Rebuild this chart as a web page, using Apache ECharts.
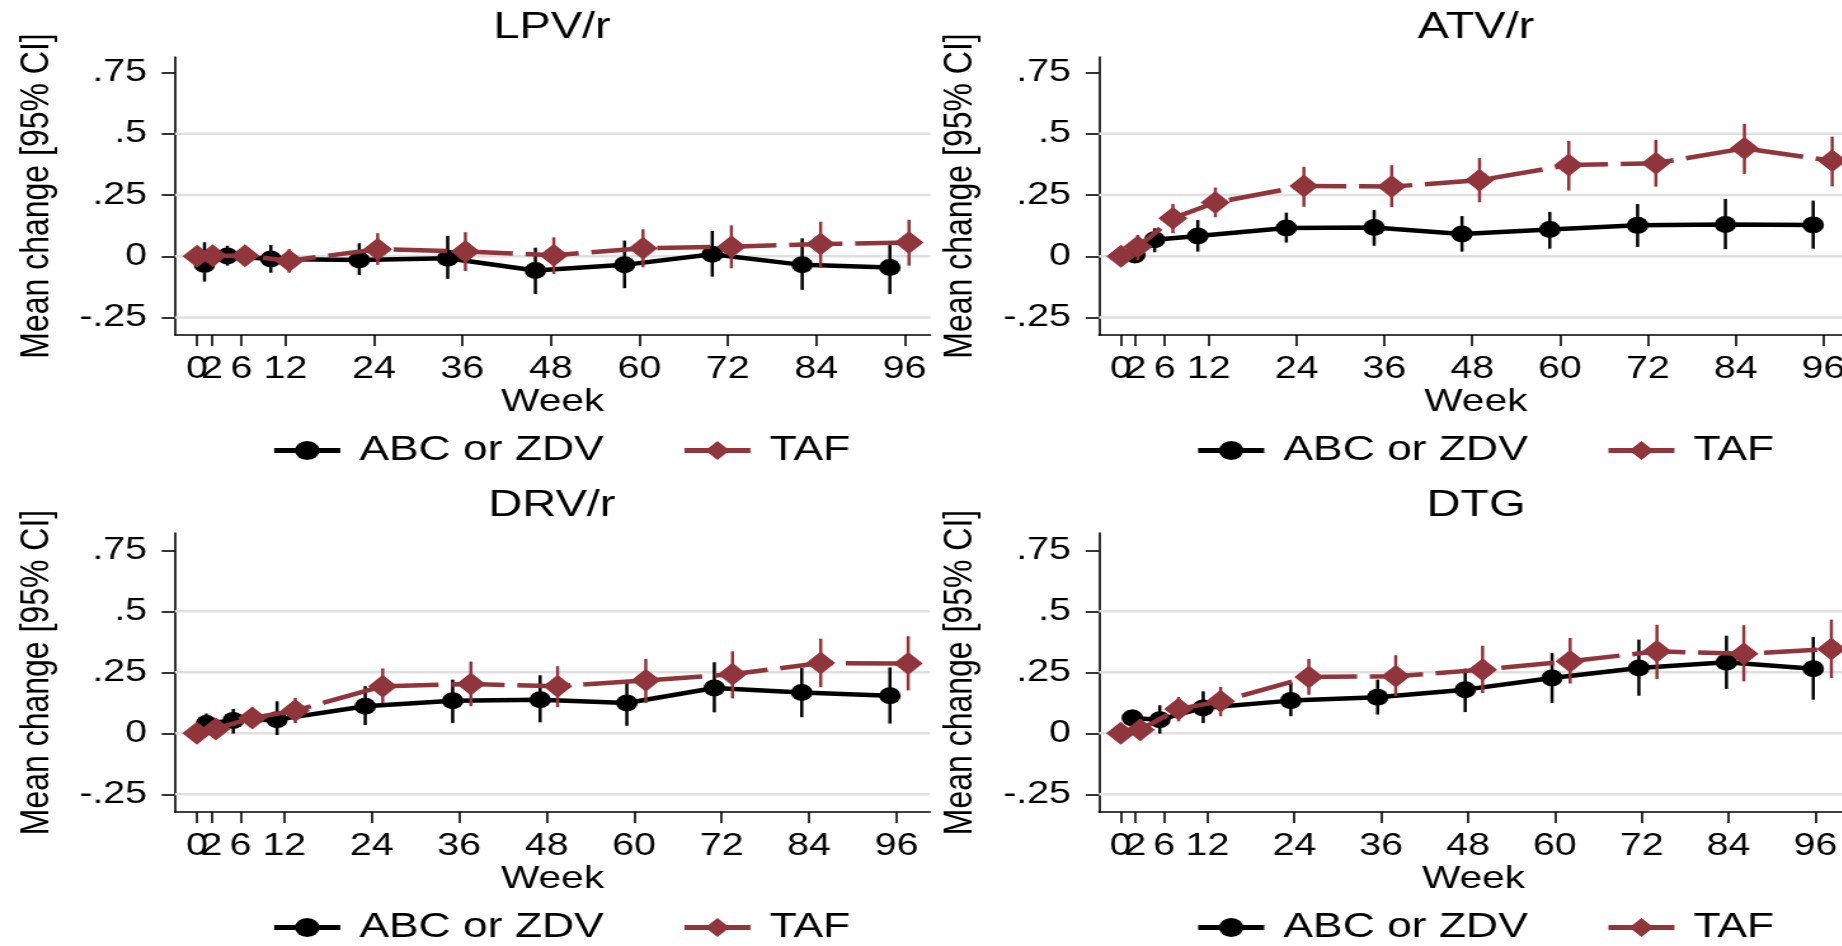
<!DOCTYPE html>
<html><head><meta charset="utf-8">
<script src="https://cdn.jsdelivr.net/npm/echarts@6/dist/echarts.min.js"></script>
<style>
html,body{margin:0;padding:0;overflow:hidden;background:#fff;width:1842px;height:946px;}
#chart{width:1460px;height:946px;transform:scaleX(1.27);transform-origin:0 0;}
</style></head><body><div id="chart"></div><script>
// ---------- data ----------
const weekTicks = [0, 2, 6, 12, 24, 36, 48, 60, 72, 84, 96];
const weekLabelsMain = [2, 6, 12, 24, 36, 48, 60, 72, 84, 96];
const weekLabelsFirst = [0];
const yTickValues = [-0.25, 0, 0.25, 0.5, 0.75];
const yTickLabels = ['-.25', '0', '.25', '.5', '.75'];
const gridValues = [-0.25, 0, 0.25, 0.5];
const panelTitles = ['LPV/r', 'ATV/r', 'DRV/r', 'DTG'];
const seriesNames = ['ABC or ZDV', 'TAF'];

const lpvAbcWeek = [1.0, 4.1, 10.0, 22.0, 34.0, 45.9, 58.0, 69.9, 82.1, 94.0];
const lpvAbcMean = [-0.033, 0.001, -0.011, -0.015, -0.008, -0.058, -0.035, 0.008, -0.035, -0.046];
const lpvAbcLo = [-0.103, -0.038, -0.067, -0.076, -0.092, -0.154, -0.130, -0.083, -0.137, -0.154];
const lpvAbcHi = [0.057, 0.043, 0.046, 0.053, 0.083, 0.035, 0.064, 0.103, 0.073, 0.049];
const lpvTafWeek = [0, 2.1, 6.5, 12.5, 24.5, 36.4, 48.4, 60.5, 72.5, 84.6, 96.6];
const lpvTafMean = [0, 0.002, 0.002, -0.018, 0.029, 0.019, 0.004, 0.033, 0.039, 0.050, 0.056];
const lpvTafLo = [0, -0.025, -0.022, -0.067, -0.035, -0.060, -0.072, -0.045, -0.049, -0.045, -0.038];
const lpvTafHi = [0, 0.028, 0.026, 0.029, 0.094, 0.098, 0.077, 0.110, 0.126, 0.141, 0.149];

const atvAbcWeek = [1.9, 4.6, 10.5, 22.6, 34.6, 46.6, 58.6, 70.6, 82.6, 94.6];
const atvAbcMean = [0.005, 0.067, 0.083, 0.115, 0.117, 0.091, 0.109, 0.126, 0.130, 0.128];
const atvAbcLo = [-0.025, 0.016, 0.019, 0.056, 0.043, 0.019, 0.031, 0.038, 0.029, 0.031];
const atvAbcHi = [0.035, 0.114, 0.148, 0.178, 0.189, 0.164, 0.181, 0.213, 0.234, 0.227];
const atvTafWeek = [0, 2.3, 7.1, 12.9, 25.0, 37.0, 49.0, 61.2, 73.1, 85.2, 97.2];
const atvTafMean = [0, 0.039, 0.155, 0.219, 0.287, 0.284, 0.310, 0.372, 0.379, 0.440, 0.389];
const atvTafLo = [0, -0.015, 0.094, 0.159, 0.202, 0.200, 0.220, 0.268, 0.284, 0.336, 0.285];
const atvTafHi = [0, 0.087, 0.213, 0.280, 0.365, 0.371, 0.400, 0.470, 0.474, 0.540, 0.488];

const drvAbcWeek = [1.3, 5.0, 11.0, 23.1, 35.1, 47.1, 59.0, 71.0, 83.0, 95.1];
const drvAbcMean = [0.040, 0.053, 0.056, 0.111, 0.133, 0.138, 0.124, 0.186, 0.167, 0.154];
const drvAbcLo = [0.015, -0.001, -0.007, 0.034, 0.042, 0.045, 0.031, 0.086, 0.066, 0.040];
const drvAbcHi = [0.081, 0.100, 0.131, 0.193, 0.220, 0.238, 0.206, 0.291, 0.268, 0.270];
const drvTafWeek = [0, 2.6, 7.6, 13.5, 25.5, 37.6, 49.5, 61.6, 73.5, 85.6, 97.6];
const drvTafMean = [0, 0.018, 0.063, 0.093, 0.193, 0.202, 0.193, 0.217, 0.242, 0.288, 0.286];
const drvTafLo = [0, -0.012, 0.029, 0.042, 0.124, 0.111, 0.107, 0.124, 0.143, 0.189, 0.176];
const drvTafHi = [0, 0.045, 0.104, 0.145, 0.266, 0.294, 0.275, 0.305, 0.336, 0.388, 0.398];

const dtgAbcWeek = [1.6, 5.4, 11.4, 23.5, 35.5, 47.6, 59.6, 71.6, 83.7, 95.7];
const dtgAbcMean = [0.063, 0.056, 0.104, 0.134, 0.148, 0.179, 0.227, 0.268, 0.291, 0.265];
const dtgAbcLo = [0.029, -0.001, 0.042, 0.070, 0.077, 0.087, 0.124, 0.154, 0.182, 0.138];
const dtgAbcHi = [0.097, 0.115, 0.172, 0.206, 0.220, 0.265, 0.329, 0.384, 0.400, 0.395];
const dtgTafWeek = [0, 2.7, 8.0, 13.8, 26.0, 38.0, 50.0, 62.1, 74.1, 86.1, 98.2];
const dtgTafMean = [0, 0.015, 0.100, 0.131, 0.231, 0.234, 0.261, 0.295, 0.336, 0.326, 0.346];
const dtgTafLo = [0, -0.026, 0.049, 0.070, 0.158, 0.152, 0.165, 0.204, 0.223, 0.213, 0.227];
const dtgTafHi = [0, 0.049, 0.149, 0.190, 0.305, 0.320, 0.359, 0.391, 0.445, 0.443, 0.466];

// ---------- layout (reference pixels; x divided by the horizontal stretch) ----------
const S = 1.27;
const FONT = 'Liberation Sans, Arial, Helvetica, sans-serif';
const RED = '#90353b';
const layout = [
  {left: 175, top: 57, width: 755.4, height: 278, xMin: -3, xMax: 99.5, yMin: -0.321, yMax: 0.8125, titleX: 552, titleY: 28, legLeft: 271, legY: 452},
  {left: 1099, top: 57, width: 753.7, height: 278, xMin: -3, xMax: 100, yMin: -0.321, yMax: 0.8125, titleX: 1476, titleY: 28, legLeft: 1195, legY: 452},
  {left: 175, top: 533, width: 755, height: 279, xMin: -3, xMax: 100.6, yMin: -0.3225, yMax: 0.821, titleX: 552, titleY: 506, legLeft: 271, legY: 929},
  {left: 1099, top: 533, width: 749, height: 279, xMin: -3, xMax: 100.5, yMin: -0.3225, yMax: 0.821, titleX: 1476, titleY: 506, legLeft: 1195, legY: 929}
];

const panels = [
  {abc: [lpvAbcWeek, lpvAbcMean, lpvAbcLo, lpvAbcHi], taf: [lpvTafWeek, lpvTafMean, lpvTafLo, lpvTafHi]},
  {abc: [atvAbcWeek, atvAbcMean, atvAbcLo, atvAbcHi], taf: [atvTafWeek, atvTafMean, atvTafLo, atvTafHi]},
  {abc: [drvAbcWeek, drvAbcMean, drvAbcLo, drvAbcHi], taf: [drvTafWeek, drvTafMean, drvTafLo, drvTafHi]},
  {abc: [dtgAbcWeek, dtgAbcMean, dtgAbcLo, dtgAbcHi], taf: [dtgTafWeek, dtgTafMean, dtgTafLo, dtgTafHi]}
];

function yLabel(v) {
  let best = 0;
  yTickValues.forEach((t, i) => { if (Math.abs(t - v) < Math.abs(yTickValues[best] - v)) best = i; });
  return yTickLabels[best];
}

function ciSeries(i, arr, color, z) {
  return {
    type: 'custom', xAxisIndex: i, yAxisIndex: i, z: z, silent: true,
    data: arr[0].map((w, j) => [w, arr[2][j], arr[3][j]]),
    encode: {x: 0, y: [1, 2]},
    renderItem: function (params, api) {
      const p1 = api.coord([api.value(0), api.value(1)]);
      const p2 = api.coord([api.value(0), api.value(2)]);
      return {type: 'line', shape: {x1: p1[0], y1: p1[1], x2: p2[0], y2: p2[1]},
        style: {stroke: color, lineWidth: 2.5}};
    }
  };
}

const labelStyle = {margin: 19, fontSize: 31, color: '#000', fontFamily: FONT, formatter: v => String(v)};
const grid = [], xAxis = [], yAxis = [], series = [], title = [], legend = [];
layout.forEach((L, i) => {
  grid.push({left: L.left / S, top: L.top, width: L.width / S, height: L.height, containLabel: false});
  title.push({text: panelTitles[i], left: L.titleX / S, top: L.titleY - 18.5, textAlign: 'center', padding: 0,
    textStyle: {fontSize: 37, fontWeight: 'normal', color: '#000', fontFamily: FONT}});
  // main x axis (indices 0..3)
  xAxis[i] = {
    gridIndex: i, type: 'value', position: 'bottom', min: L.xMin, max: L.xMax,
    name: 'Week', nameLocation: 'middle', nameGap: 51,
    nameTextStyle: {fontSize: 32, color: '#000', fontFamily: FONT},
    axisLine: {show: true, onZero: false, lineStyle: {color: '#000', width: 1.6}},
    axisTick: {show: true, length: 11, customValues: weekTicks, lineStyle: {color: '#000', width: 1.6}},
    axisLabel: Object.assign({customValues: weekLabelsMain}, labelStyle),
    splitLine: {show: false}
  };
  // helper x axis carrying only the first label, which overlaps its neighbour as in the reference
  xAxis[i + 4] = {
    gridIndex: i, type: 'value', position: 'bottom', min: L.xMin, max: L.xMax,
    axisLine: {show: false, onZero: false}, axisTick: {show: false},
    axisLabel: Object.assign({customValues: weekLabelsFirst}, labelStyle),
    splitLine: {show: false}
  };
  yAxis.push({
    gridIndex: i, type: 'value', min: L.yMin, max: L.yMax,
    name: 'Mean change [95% CI]', nameLocation: 'middle', nameGap: 93, nameRotate: 90,
    nameTextStyle: {fontSize: 32, color: '#000', fontFamily: FONT},
    axisLine: {show: true, onZero: false, lineStyle: {color: '#000', width: 1.6}},
    axisTick: {show: true, length: 10.5, customValues: yTickValues, lineStyle: {color: '#000', width: 1.6}},
    axisLabel: {customValues: yTickValues, margin: 22, fontSize: 31, color: '#000', fontFamily: FONT,
      formatter: yLabel},
    splitLine: {show: false}
  });
  // grid lines
  series.push({
    type: 'custom', xAxisIndex: i, yAxisIndex: i, z: 1, silent: true,
    data: gridValues.map(v => [0, v]),
    encode: {x: 0, y: 1},
    renderItem: function (params, api) {
      const cs = params.coordSys;
      const y = api.coord([0, api.value(1)])[1];
      return {type: 'line', shape: {x1: cs.x, y1: y, x2: cs.x + cs.width, y2: y},
        style: {stroke: '#e0e0e0', lineWidth: 2.5}};
    }
  });
  const P = panels[i];
  series.push(ciSeries(i, P.abc, '#000', 2));
  series.push({
    name: seriesNames[0], type: 'line', xAxisIndex: i, yAxisIndex: i, z: 3,
    data: P.abc[0].map((w, j) => [w, P.abc[1][j]]),
    symbol: 'circle', symbolSize: 17, showAllSymbol: true,
    lineStyle: {color: '#000', width: 4.5}, itemStyle: {color: '#000'}
  });
  series.push(ciSeries(i, P.taf, RED, 4));
  series.push({
    name: seriesNames[1], type: 'line', xAxisIndex: i, yAxisIndex: i, z: 5,
    data: P.taf[0].map((w, j) => [w, P.taf[1][j]]),
    symbol: 'diamond', symbolSize: 23, showAllSymbol: true,
    lineStyle: {color: RED, width: 4.5, type: [42, 10]}, itemStyle: {color: RED}
  });
  legend.push({
    left: L.legLeft / S, top: L.legY - 19, orient: 'horizontal', padding: 0,
    itemWidth: 52, itemHeight: 24, itemGap: 61, selectedMode: false,
    textStyle: {fontSize: 35, color: '#000', fontFamily: FONT, padding: [0, 0, 0, 10]},
    data: [
      {name: seriesNames[0], lineStyle: {width: 5, color: '#000'}},
      {name: seriesNames[1], lineStyle: {type: 'solid', width: 5, color: RED}}
    ]
  });
});

const chart = echarts.init(document.getElementById('chart'));
chart.setOption({
  animation: false, backgroundColor: '#fff',
  title, legend, grid, xAxis, yAxis, series
});
</script></body></html>
